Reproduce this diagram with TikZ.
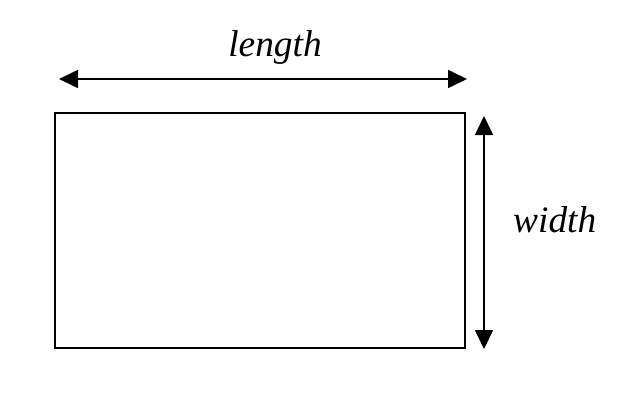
\documentclass[tikz,border=0pt]{standalone}
\usepackage{fontspec}
\setmainfont{Liberation Serif}
\usetikzlibrary{arrows.meta}
\begin{document}
\begin{tikzpicture}[x=1bp,y=-1bp,
  dimline/.style={line width=1.6bp,{Triangle[length=19bp,width=18bp]}-{Triangle[length=19bp,width=18bp]}},
  lbl/.style={font=\fontsize{37.5}{40}\selectfont\itshape,inner sep=0pt}]
\useasboundingbox (0,0) rectangle (622,406);
\node[draw,line width=1.6bp,minimum width=410bp,minimum height=235bp,inner sep=0pt,anchor=north west] (rect) at (54,112) {};
\coordinate (hl) at (59,79);
\coordinate (hr) at (467,79);
\coordinate (vt) at (484,116);
\coordinate (vb) at (484,349);
\draw[dimline] (hl) -- (hr);
\draw[dimline] (vt) -- (vb);
\node[lbl,anchor=base] (len) at (275,56) {length};
\node[lbl,anchor=base west] (wid) at (513,232) {width};
\end{tikzpicture}
\end{document}
